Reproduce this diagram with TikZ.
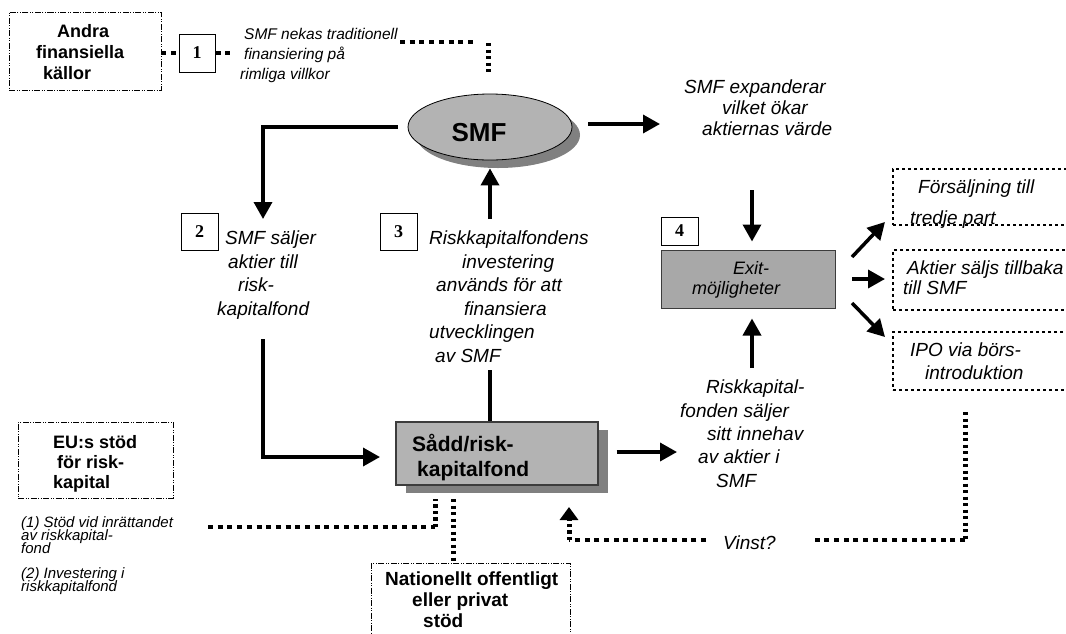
\documentclass[tikz,border=0pt]{standalone}
\usepackage{fontspec}
\setmainfont{Liberation Sans}
\newfontfamily\numfont{Liberation Serif}
\usetikzlibrary{arrows.meta,shadows,shapes.geometric}
\definecolor{fillgray}{RGB}{179,179,179}
\definecolor{exitgray}{RGB}{168,168,168}
\definecolor{shadowgray}{RGB}{128,128,128}
\definecolor{edgegray}{RGB}{60,60,60}
\newcommand\setfs[2]{\fontsize{#1pt}{#2pt}\selectfont\lineskiplimit=-50pt}

\begin{document}
\begin{tikzpicture}[x=1pt,y=-1pt,
  arr/.style={line width=3.5pt,-{Triangle[length=17pt,width=18pt]}},
  bar/.style={line width=3.5pt},
  hdots/.style={line width=4pt,dash pattern=on 5pt off 4.7pt},
  vdots/.style={line width=5pt,dash pattern=on 3.4pt off 3.1pt},
  thinbox/.style={draw,line width=0.9pt,inner sep=0pt,
    dash pattern=on 6pt off 1.5pt on 1pt off 1.5pt on 1pt off 1.5pt},
  optbox/.style={draw,line width=2.4pt,dash pattern=on 3.3pt off 2.7pt,
    inner sep=0pt,minimum width=200pt},
  numbox/.style={draw,line width=1pt,fill=white,inner sep=0pt,
    font=\numfont\bfseries\setfs{18}{20}},
  itext/.style={anchor=north west,inner sep=0pt,align=left,
    font=\setfs{19}{23.5}\itshape},
  btext/.style={anchor=north west,inner sep=0pt,align=left,
    font=\setfs{18}{21}\bfseries},
  shaded/.style={drop shadow={shadow xshift=#1,shadow yshift=-8pt,
    fill=shadowgray,opacity=1}}
]
\useasboundingbox (0,0) rectangle (1066,633);

% ---- top left: other sources and step 1
\node[thinbox,minimum width=152pt,minimum height=78pt] (andra) at (85,51) {};
\node[btext] (andraT) at (36,24.3) {\hspace*{21pt}Andra\\finansiella\\\hspace*{7pt}källor};
\node[numbox,minimum width=36pt,minimum height=38pt] (n1) at (197,53) {1};
\node[itext,font=\setfs{15.5}{20}\itshape] (t1) at (240,28.3)
  {\hspace*{4pt}SMF nekas traditionell\\\hspace*{4pt}finansiering på\\rimliga villkor};

% ---- the company
\node[ellipse,draw,line width=0.8pt,fill=fillgray,minimum width=164pt,
  minimum height=66pt,shaded=8pt] (smf) at (490,127) {};
\node[font=\setfs{26}{30}\bfseries,inner sep=0pt] (smfT) at (479,133) {SMF};

% ---- the fund
\node[rectangle,draw=edgegray,line width=1.2pt,fill=fillgray,minimum width=202pt,
  minimum height=63pt,shaded=10pt] (sadd) at (497,453.5) {};
\node[btext,font=\setfs{21}{25}\bfseries] (saddT) at (412,434.2)
  {Sådd/risk-\\\hspace*{5pt}kapitalfond};

% ---- exit
\node[rectangle,draw=edgegray,line width=1pt,fill=exitgray,minimum width=174pt,
  minimum height=58pt] (exit) at (748,279) {};
\node[itext,font=\setfs{18}{20}\itshape] (exitT) at (692,261.3)
  {\hspace*{41pt}Exit-\\möjligheter};

% ---- step numbers
\node[numbox,minimum width=37pt,minimum height=37pt] (n2) at (199.5,231.5) {2};
\node[numbox,minimum width=37pt,minimum height=37pt] (n3) at (398.5,231.5) {3};
\node[numbox,minimum width=37pt,minimum height=28pt] (n4) at (679.5,231) {4};

% ---- step texts
\node[itext] (t2) at (217,231)
  {\hspace*{8pt}SMF säljer\\\hspace*{11pt}aktier till\\\hspace*{21pt}risk-\\kapitalfond};
\node[itext] (t3) at (429,231)
  {Riskkapitalfondens\\\hspace*{33pt}investering\\\hspace*{7pt}används för att\\
   \hspace*{35pt}finansiera\\utvecklingen\\\hspace*{6pt}av SMF};
\node[itext,font=\setfs{19}{21}\itshape] (texp) at (684,80)
  {SMF expanderar\\\hspace*{38pt}vilket ökar\\\hspace*{18pt}aktiernas värde};
\node[itext,font=\setfs{19}{23.3}\itshape] (t4) at (680,380)
  {\hspace*{26pt}Riskkapital-\\fonden säljer\\\hspace*{27pt}sitt innehav\\
   \hspace*{18pt}av aktier i\\\hspace*{36pt}SMF};
\node[itext] (vinst) at (723,536) {Vinst?};

% ---- exit routes
\node[optbox,minimum height=56pt] (optA) at (993,197) {};
\node[optbox,minimum height=60pt] (optB) at (993,280) {};
\node[optbox,minimum height=58pt] (optC) at (993,361) {};
\node[itext,font=\setfs{19}{31}\itshape] (optAT) at (910,180)
  {\hspace*{8pt}Försäljning till\\tredje part};
\node[itext,font=\setfs{19}{20}\itshape] (optBT) at (903,261)
  {\hspace*{4pt}Aktier säljs tillbaka\\till SMF};
\node[itext,font=\setfs{19}{23}\itshape] (optCT) at (910,343)
  {IPO via börs-\\\hspace*{15pt}introduktion};

% ---- support
\node[thinbox,minimum width=155pt,minimum height=76pt] (eu) at (95.5,460) {};
\node[btext,font=\setfs{18}{20}\bfseries] (euT) at (53,435.3)
  {EU:s stöd\\\hspace*{4pt}för risk-\\kapital};
\node[itext,font=\setfs{15}{13.2}\itshape] (s1) at (21,516.5)
  {(1) Stöd vid inrättandet\\av riskkapital-\\fond};
\node[itext,font=\setfs{15}{13.5}\itshape] (s2) at (21,567)
  {(2) Investering i\\riskkapitalfond};
\node[thinbox,minimum width=199pt,minimum height=90pt] (nat) at (470.5,608) {};
\node[btext,font=\setfs{19}{21}\bfseries] (natT) at (385,571.6)
  {Nationellt offentligt\\\hspace*{27pt}eller privat\\\hspace*{38pt}stöd};

% ---- solid flows
\coordinate (a2) at (263,219);
\coordinate (b2) at (263,339);
\coordinate (s2) at (380,457);
\coordinate (a3) at (490,219);
\coordinate (b3) at (490,370);
\coordinate (e1) at (588,124);
\coordinate (e2) at (660,124);
\coordinate (x1) at (752,190);
\coordinate (x2) at (752,368);
\coordinate (r2) at (677,452);
\draw[arr,shorten <=10pt] (smf.west) -| (a2);
\draw[arr] (b2) |- (s2);
\draw[bar] (b3) -- (b3 |- sadd.north);
\draw[arr,shorten >=8pt] (a3) -- (smf.south);
\draw[arr] (e1) -- (e2);
\draw[arr,shorten >=8pt] (x1) -- (x1 |- exit.north);
\draw[arr,shorten >=10pt] (x2) -- (x2 |- exit.south);
\draw[arr,shorten <=18pt] (sadd.east |- r2) -- (r2);

\coordinate (o1) at (852,257);
\coordinate (o2) at (852,279);
\coordinate (o3) at (852,303);
\coordinate (p1) at (885,222);
\coordinate (p2) at (885,279);
\coordinate (p3) at (885,337);
\draw[arr] (o1) -- (p1);
\draw[arr] (o2) -- (p2);
\draw[arr] (o3) -- (p3);

% ---- dotted links
\coordinate (d1) at (234,53);
\coordinate (d2a) at (400,42);
\coordinate (d2b) at (477,42);
\coordinate (d3a) at (488,43);
\coordinate (d3b) at (488,73);
\draw[hdots] (andra.east |- n1.west) -- (n1.west);
\draw[hdots] (n1.east) -- (d1);
\draw[hdots] (d2a) -- (d2b);
\draw[vdots] (d3a) -- (d3b);

\coordinate (e3) at (208,527);
\coordinate (e4) at (435,527);
\coordinate (e5) at (435,499);
\coordinate (n5) at (453,499);
\draw[hdots] (e3) -- (e4);
\draw[vdots] (e4) -- (e5);
\draw[vdots] (n5) -- (n5 |- nat.north);

\coordinate (v1) at (965,412);
\coordinate (v2) at (965,540);
\coordinate (v3) at (813,540);
\coordinate (v4) at (706,540);
\coordinate (v5) at (569,540);
\coordinate (v6) at (569,507);
\draw[vdots] (v1) -- (v2);
\draw[hdots] (v2) -- (v3);
\draw[hdots] (v4) -- (v5);
\draw[vdots,-{Triangle[length=13pt,width=18pt]}] (v5) -- (v6);
\end{tikzpicture}
\end{document}
